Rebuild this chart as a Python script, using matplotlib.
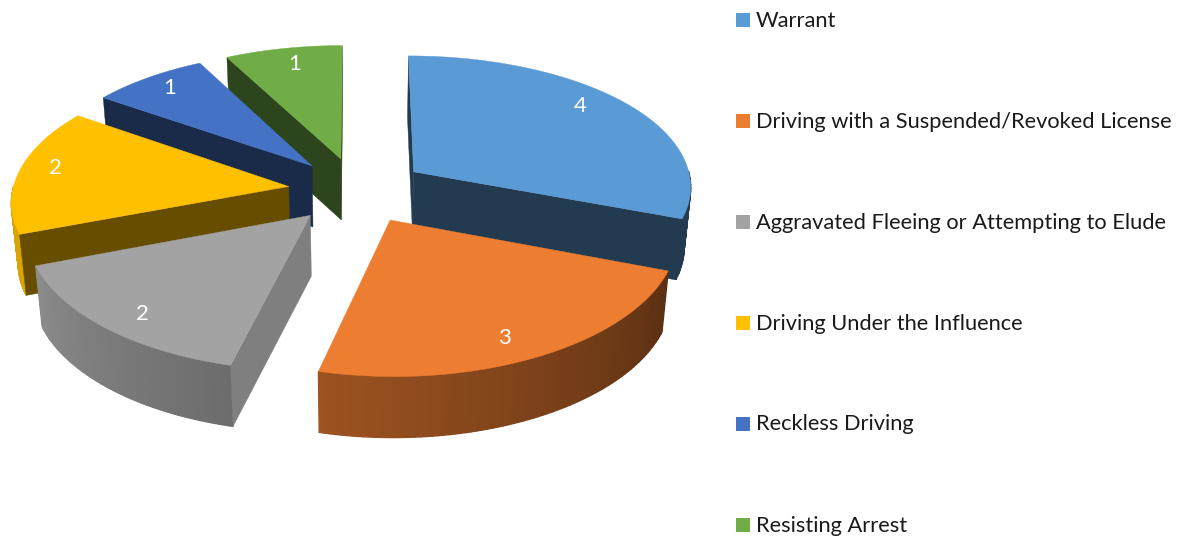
import numpy as np
import matplotlib
matplotlib.use('Agg')
import matplotlib.pyplot as plt
from matplotlib.patches import Polygon, Rectangle

categorias = ['Warrant', 'Driving with a Suspended/Revoked License',
              'Aggravated Fleeing or Attempting to Elude',
              'Driving Under the Influence', 'Reckless Driving', 'Resisting Arrest']
valores = [4, 3, 2, 2, 1, 1]
cores = ['#5B9BD5', '#ED7D31', '#A3A3A3', '#FFC000', '#4472C4', '#70AD47']

# camera settings
x0, y0 = 357, 190.5
a_dir, a_esq = 279, 276
b_frente, b_tras = 130, 134
kx, ky = 0.10, 0.12
explode = 0.25
depth = 61

# small nudges for the value labels (pixels)
ajuste = [(-4, -10), (-3, 11), (-6, 11), (-17, -6), (-9, -6), (1, -5)]

plt.rcParams['font.family'] = ['Lato', 'DejaVu Sans']
fig = plt.figure(figsize=(11.78, 5.38), dpi=100)
ax = fig.add_axes([0, 0, 1, 1])
ax.set_xlim(0, 1178)
ax.set_ylim(538, 0)
ax.axis('off')


def proj(x, y, z=0):
    a = a_dir if x > 0 else a_esq
    b = b_frente if y > 0 else b_tras
    return (x0 + a * x / (1 - kx * y) * (1 - 0.02 * z),
            y0 + b * y / (1 - ky * y) + depth * z)


def escurece(cor, f):
    return tuple(c * f for c in matplotlib.colors.to_rgb(cor))


limites = np.cumsum([0] + valores) / sum(valores) * 2 * np.pi
radial_f = [0.38, 0.4, 0.78, 0.4, 0.38, 0.4]
ordem = [5, 4, 3, 0, 2, 1]

for i in ordem:
    t0, t1 = limites[i], limites[i + 1]
    meio = (t0 + t1) / 2
    ex, ey = explode * np.sin(meio), -explode * np.cos(meio)
    t = np.linspace(t0, t1, 80)
    xs = ex + np.sin(t)
    ys = ey - np.cos(t)

    # outer wall, only the part turned to the viewer
    for j in range(len(t) - 1):
        if -np.cos(t[j]) < 0 and -np.cos(t[j + 1]) < 0:
            continue
        f = np.clip(0.38 + (np.degrees(t[j]) - 110) * 0.0034, 0.38, 0.85)
        cor = escurece(cores[i], f)
        quad = [proj(xs[j], ys[j]), proj(xs[j + 1], ys[j + 1]),
                proj(xs[j + 1], ys[j + 1], 1), proj(xs[j], ys[j], 1)]
        ax.add_patch(Polygon(quad, closed=True, fc=cor, ec=cor, lw=1.0))

    # radial walls, same idea
    for tt, normal in ((t0, -np.sin(t0)), (t1, np.sin(t1))):
        if normal < -1e-9:
            continue
        px, py = ex + np.sin(tt), ey - np.cos(tt)
        parede = [proj(ex, ey), proj(px, py), proj(px, py, 1), proj(ex, ey, 1)]
        cor = escurece(cores[i], radial_f[i])
        ax.add_patch(Polygon(parede, closed=True, fc=cor, ec=cor, lw=0.3))

    # top
    topo = [proj(ex, ey)] + [proj(xx, yy) for xx, yy in zip(xs, ys)]
    ax.add_patch(Polygon(topo, closed=True, fc=cores[i], ec=cores[i], lw=0.3))

    # label
    lx, ly = proj(ex + 0.8 * np.sin(meio), ey - 0.8 * np.cos(meio))
    ax.text(lx + ajuste[i][0], ly + ajuste[i][1], str(valores[i]), color='white',
            fontsize=16, ha='center', va='center')

# legend
leg_y = [20, 121, 222, 322.5, 423.5, 524.5]
for nome, cor, y in zip(categorias, cores, leg_y):
    ax.add_patch(Rectangle((736, y - 7), 14, 14, fc=cor, ec='none'))
    ax.text(756, y + 1, nome, fontsize=15.75, color='#1a1a1a', ha='left', va='center')

fig.savefig('out.png', dpi=100)
